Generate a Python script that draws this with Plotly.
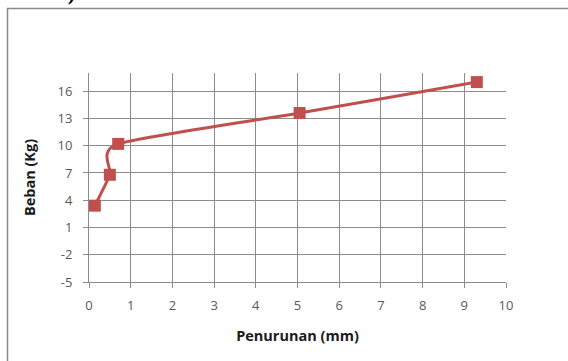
import plotly.graph_objects as go

# Load test: settlement (mm) vs. load (kg)
penurunan_mm = [0.14, 0.5, 0.7, 5.05, 9.3]
beban_kg = [3.4, 6.8, 10.2, 13.6, 17.0]

x_ticks = list(range(0, 11))
y_ticks = [-5, -2, 1, 4, 7, 10, 13, 16]

W, H = 568, 361
L, R, T, B = 89, 62, 73, 79
pw, ph = W - L - R, H - T - B

def px_x(p):
    return (p - L) / pw

def px_y(p):
    return (H - B - p) / ph

line_col = "#c0504d"
grid_col = "#8c8c8c"
tick_font = dict(family="Open Sans, Liberation Sans, sans-serif", size=13, color="#595959")
title_font = dict(family="Open Sans, Liberation Sans, sans-serif", size=14.5, color="#1a1a1a")


def smooth_path(xs, ys, k=1 / 9):
    """Cubic Bezier path through the points (Catmull-Rom style tangents)."""
    pts = list(zip(xs, ys))
    n = len(pts)
    d = f"M {pts[0][0]},{pts[0][1]}"
    for i in range(n - 1):
        p0 = pts[max(i - 1, 0)]
        p1 = pts[i]
        p2 = pts[i + 1]
        p3 = pts[min(i + 2, n - 1)]
        c1 = (p1[0] + (p2[0] - p0[0]) * k, p1[1] + (p2[1] - p0[1]) * k)
        c2 = (p2[0] - (p3[0] - p1[0]) * k, p2[1] - (p3[1] - p1[1]) * k)
        d += f" C {c1[0]},{c1[1]} {c2[0]},{c2[1]} {p2[0]},{p2[1]}"
    return d


fig = go.Figure()
fig.add_trace(go.Scatter(
    x=penurunan_mm, y=beban_kg,
    mode="markers",
    marker=dict(symbol="square", size=12, color=line_col, line=dict(width=0)),
    showlegend=False,
))

# Smoothed connecting line, under the markers
fig.add_shape(
    type="path", xref="x", yref="y",
    path=smooth_path(penurunan_mm, beban_kg),
    line=dict(color=line_col, width=3), fillcolor="rgba(0,0,0,0)", layer="between",
)

fig.update_xaxes(
    range=[0, 10], tickvals=x_ticks, ticktext=[str(v) for v in x_ticks],
    showgrid=True, gridcolor=grid_col, gridwidth=1,
    showline=True, linecolor=grid_col, linewidth=1,
    ticks="outside", ticklen=5, tickcolor=grid_col,
    tickfont=tick_font, zeroline=False, ticklabelstandoff=6,
    title=dict(text="<b>Penurunan (mm)</b>", font=title_font, standoff=18),
)
fig.update_yaxes(
    range=[-5, 18], tickvals=y_ticks, ticktext=[str(v) for v in y_ticks],
    showgrid=True, gridcolor=grid_col, gridwidth=1,
    showline=True, linecolor=grid_col, linewidth=1,
    ticks="outside", ticklen=5, tickcolor=grid_col,
    tickfont=tick_font, zeroline=False, ticklabelstandoff=8,
    title=dict(text="<b>Beban (Kg)</b>", font=title_font, standoff=18),
)

# Chart frame (extends past the right and bottom edges of the page)
fig.add_shape(
    type="rect", xref="paper", yref="paper",
    x0=px_x(7.5), x1=px_x(W + 20), y0=px_y(H + 20), y1=px_y(8.5),
    line=dict(color="#8a8a8a", width=1.5), fillcolor="rgba(0,0,0,0)", layer="below",
)

# Caption line running off the top edge
fig.add_annotation(
    text="<b>n TEK)</b>", xref="paper", yref="paper",
    x=px_x(2), y=px_y(7), xanchor="left", yanchor="bottom",
    showarrow=False, font=dict(family="Liberation Serif, serif", size=22, color="#000000"),
)

fig.update_layout(
    width=W, height=H,
    margin=dict(l=L, r=R, t=T, b=B),
    paper_bgcolor="white", plot_bgcolor="white",
)

fig.write_html("out.html")
